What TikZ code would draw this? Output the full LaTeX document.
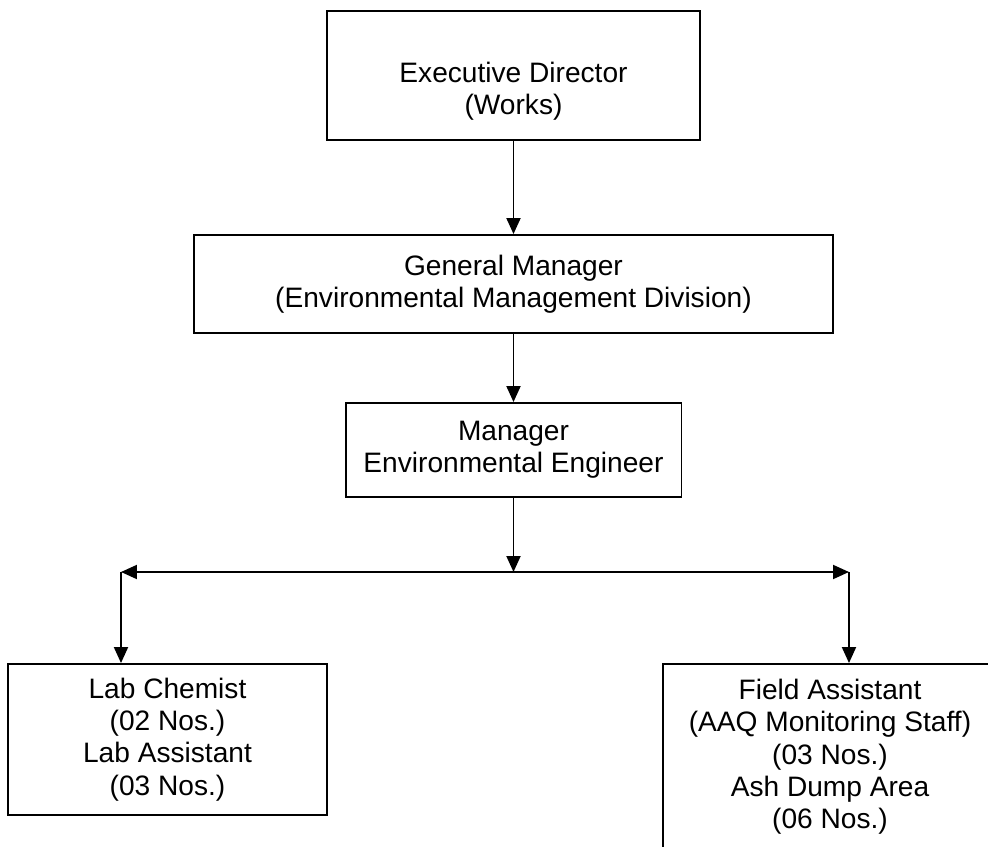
\documentclass[tikz,border=0pt]{standalone}
\usepackage{fontspec}
\setmainfont{Liberation Sans}
\usetikzlibrary{arrows.meta}

\begin{document}
\begin{tikzpicture}[x=0.02cm,y=-0.02cm,
  box/.style={draw,line width=1.1pt,align=center,inner sep=0pt,font=\fontsize{16}{18.4}\selectfont},
  txt/.style={align=center,inner sep=0pt,font=\fontsize{16}{18.4}\selectfont},
  arr/.style={line width=1.1pt,-{Triangle[length=0.32cm,width=0.28cm]}},
  arrs/.style={line width=1.1pt,{Triangle[length=0.32cm,width=0.28cm]}-{Triangle[length=0.32cm,width=0.28cm]}}]

\useasboundingbox (0,0) rectangle (988,847);
\clip (0,0) rectangle (988,847);

\node[box,minimum width=7.46cm,minimum height=2.58cm] (ed) at (513.5,75.5) {};
\node[txt] (edtext) at (513.5,91) {Executive Director\\(Works)};
\node[box,minimum width=12.8cm,minimum height=1.96cm] (gm) at (513.5,284) {General Manager\\(Environmental Management Division)};
\node[box,minimum width=6.72cm,minimum height=1.88cm] (mgr) at (513.5,450) {Manager\\Environmental Engineer};
\node[box,minimum width=6.38cm,minimum height=3.02cm] (lab) at (167.5,739.5) {Lab Chemist\\(02 Nos.)\\Lab Assistant\\(03 Nos.)};
\node[box,minimum width=6.7cm,minimum height=3.72cm] (field) at (830,757) {Field Assistant\\(AAQ Monitoring Staff)\\(03 Nos.)\\Ash Dump Area\\(06 Nos.)};

\coordinate (split) at (513.5,572);
\coordinate (left) at (121,572);
\coordinate (right) at (849,572);

\draw[arr] (ed) -- (gm);
\draw[arr] (gm) -- (mgr);
\draw[arr] (mgr) -- (split);
\draw[arrs] (left) -- (right);
\draw[arr] (left) -- (left |- lab.north);
\draw[arr] (right) -- (right |- field.north);

\end{tikzpicture}
\end{document}
